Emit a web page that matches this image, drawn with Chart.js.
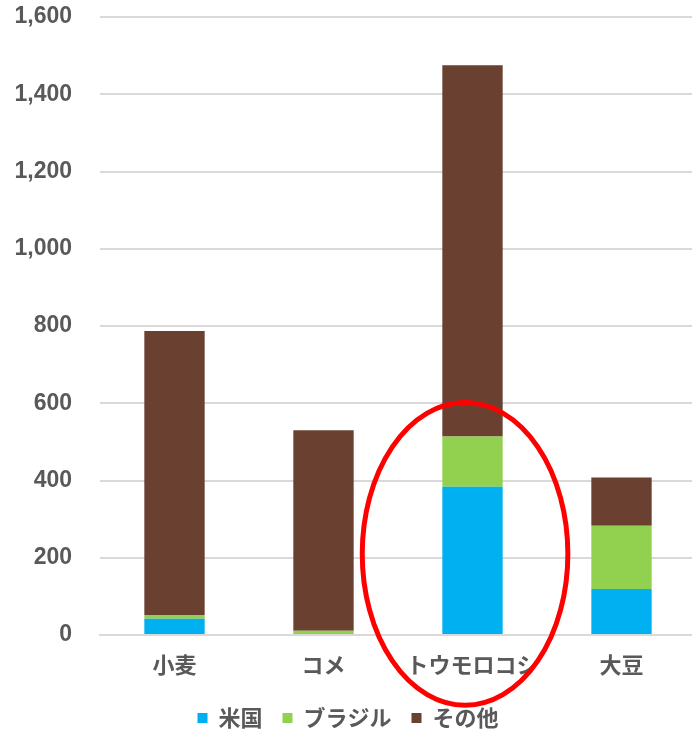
<!DOCTYPE html>
<html>
<head>
<meta charset="utf-8">
<script src="https://cdn.jsdelivr.net/npm/chart.js@4/dist/chart.umd.min.js"></script>
<style>
  html, body { margin: 0; padding: 0; background: #fff; overflow: hidden; }
  #wrap { width: 696px; height: 739px; }
</style>
</head>
<body>
<div id="wrap"><canvas id="c"></canvas></div>
<script>
const categories = ["小麦", "コメ", "トウモロコシ", "大豆"];
const seriesNames = ["米国", "ブラジル", "その他"];
const usValues = [42, 4, 384, 119];
const brazilValues = [10, 7, 130, 164];
const otherValues = [735, 519, 961, 125];
const yTicks = [0, 200, 400, 600, 800, 1000, 1200, 1400, 1600];
// highlight ellipse around トウモロコシ, in data units
const highlight = { category: 1.95, value: 210, rxCat: 0.69, ryValue: 392 };

const colors = ["#00B0F0", "#92D050", "#6A4131"];
const textColor = "#595959";

const ellipsePlugin = {
  id: "ellipse",
  afterDatasetsDraw(chart) {
    const x = chart.scales.x, y = chart.scales.y;
    const step = x.getPixelForValue(1) - x.getPixelForValue(0);
    const cx = x.getPixelForValue(0) + highlight.category * step;
    const cy = y.getPixelForValue(highlight.value);
    const rx = highlight.rxCat * step;
    const ry = y.getPixelForValue(0) - y.getPixelForValue(highlight.ryValue);
    const ctx = chart.ctx;
    ctx.save();
    ctx.beginPath();
    ctx.ellipse(cx, cy, rx, ry, 0, 0, Math.PI * 2);
    ctx.strokeStyle = "#FF0000";
    ctx.lineWidth = 5;
    ctx.stroke();
    ctx.restore();
  }
};

new Chart(document.getElementById("c"), {
  type: "bar",
  data: {
    labels: categories,
    datasets: [
      { label: seriesNames[0], data: usValues, backgroundColor: colors[0] },
      { label: seriesNames[1], data: brazilValues, backgroundColor: colors[1] },
      { label: seriesNames[2], data: otherValues, backgroundColor: colors[2] }
    ]
  },
  options: {
    responsive: true,
    maintainAspectRatio: false,
    animation: false,
    datasets: { bar: { categoryPercentage: 1, barPercentage: 0.405, borderWidth: 0 } },
    layout: { padding: { top: 17, right: 0, bottom: 0, left: 0 } },
    plugins: {
      legend: {
        position: "bottom",
        labels: {
          boxWidth: 10, boxHeight: 10, padding: 20,
          color: textColor,
          font: { family: "'Noto Sans CJK JP', sans-serif", size: 22, weight: "bold" }
        }
      },
      tooltip: { enabled: false }
    },
    scales: {
      x: {
        stacked: true,
        grid: { display: false, drawTicks: false },
        border: { display: true, color: "#d9d9d9", width: 2 },
        afterFit(scale) { scale.height = 52; scale.paddingLeft = 0; scale.paddingRight = 0; },
        ticks: {
          color: textColor, padding: 16, maxRotation: 0, autoSkip: false,
          font: { family: "'Noto Sans CJK JP', sans-serif", size: 22, weight: "bold" }
        }
      },
      y: {
        stacked: true,
        min: 0, max: 1600,
        afterBuildTicks(axis) { axis.ticks = yTicks.map(v => ({ value: v })); },
        afterFit(scale) { scale.width = 100; scale.paddingTop = 0; scale.paddingBottom = 0; },
        grid: { color: "#d9d9d9", lineWidth: 2, drawTicks: false },
        border: { display: false },
        ticks: {
          color: textColor, padding: 28,
          font: { family: "'Liberation Sans', Arial, sans-serif", size: 23, weight: "bold" },
          callback: v => v.toLocaleString("en-US")
        }
      }
    }
  },
  plugins: [ellipsePlugin]
});
</script>
</body>
</html>
